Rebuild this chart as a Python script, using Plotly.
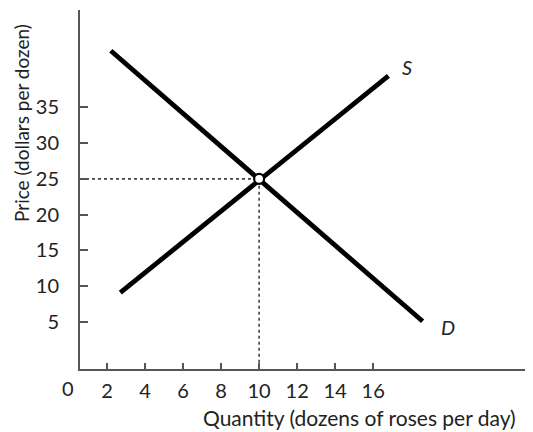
import plotly.graph_objects as go

# ---- data ----
quantity_ticks = [2, 4, 6, 8, 10, 12, 14, 16]
price_ticks = [5, 10, 15, 20, 25, 30, 35]
demand_q = [2.2, 18.6]
demand_p = [42.9, 5.1]
supply_q = [2.7, 16.8]
supply_p = [9.1, 39.4]
eq_q = [10]
eq_p = [25]
x_range = [0.58, 24.3]
y_range = [-1.57, 48.6]

FONT = "Lato"
TXT = "#222222"
AX = "#555555"

fig = go.Figure()
# dotted guide lines to the equilibrium
fig.add_trace(go.Scatter(
    x=[x_range[0], eq_q[0], eq_q[0]], y=[eq_p[0], eq_p[0], y_range[0]],
    mode="lines", line=dict(color="#444444", width=1.6, dash="dot"),
    hoverinfo="skip"))
# demand
fig.add_trace(go.Scatter(x=demand_q, y=demand_p, mode="lines",
                         line=dict(color="black", width=4.8), name="D"))
# supply
fig.add_trace(go.Scatter(x=supply_q, y=supply_p, mode="lines",
                         line=dict(color="black", width=4.8), name="S"))
# equilibrium point
fig.add_trace(go.Scatter(x=eq_q, y=eq_p, mode="markers",
                         marker=dict(size=10, color="white",
                                     line=dict(color="black", width=2.2))))

axis_common = dict(
    showline=True, linecolor=AX, linewidth=2,
    ticks="inside", tickcolor=AX, tickwidth=1.5,
    showgrid=False, zeroline=False,
    tickfont=dict(family=FONT, size=20, color=TXT),
)

# the page body adds an 8px margin, so the figure is sized/offset to compensate
fig.update_layout(
    width=525, height=424,
    margin=dict(l=72, r=2, t=2, b=63),
    plot_bgcolor="white", paper_bgcolor="white",
    showlegend=False,
    xaxis=dict(range=x_range, tickvals=quantity_ticks, ticklen=6,
               ticklabelstandoff=3, **axis_common),
    yaxis=dict(range=y_range, tickvals=price_ticks, ticklen=8,
               ticklabelstandoff=15, **axis_common),
    annotations=[
        dict(text="S", x=17.8, y=40.7, xref="x", yref="y", showarrow=False,
             font=dict(family=FONT, size=20, color=TXT, style="italic")),
        dict(text="D", x=19.95, y=4.3, xref="x", yref="y", showarrow=False,
             font=dict(family=FONT, size=20, color=TXT, style="italic")),
        dict(text="0", x=-0.0266, y=-0.053, xref="paper", yref="paper",
             xanchor="center", yanchor="middle", showarrow=False,
             font=dict(family=FONT, size=20, color=TXT)),
        dict(text="Quantity (dozens of roses per day)", x=0.971, y=-0.134,
             xref="paper", yref="paper", xanchor="right", yanchor="middle",
             showarrow=False, font=dict(family=FONT, size=21, color=TXT)),
        dict(text="Price (dollars per dozen)", x=-0.131, y=0.685,
             xref="paper", yref="paper", xanchor="center", yanchor="middle",
             textangle=-90, showarrow=False,
             font=dict(family=FONT, size=19, color=TXT)),
    ],
)

fig.write_html("out.html")
